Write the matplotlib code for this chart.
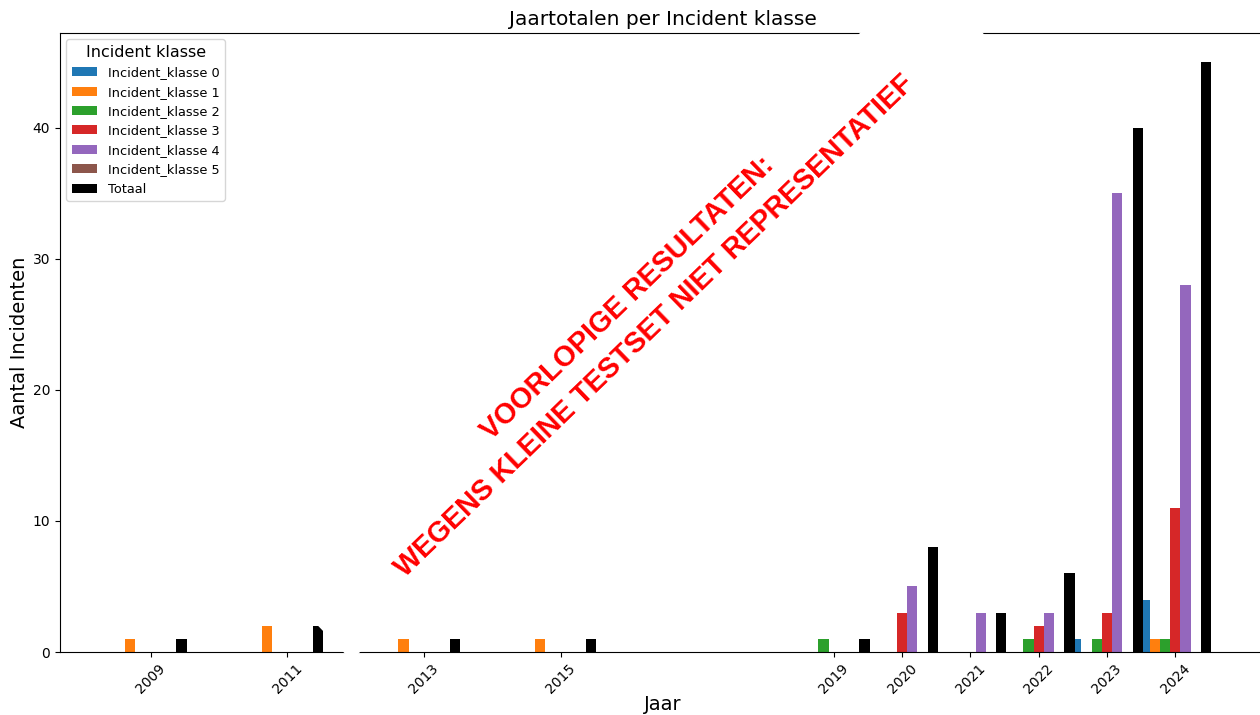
import matplotlib
matplotlib.use("Agg")
import matplotlib.pyplot as plt
import matplotlib.patches as patches
import matplotlib.transforms as transforms
import numpy as np

# jaren met incidenten
years = [2009, 2011, 2013, 2015, 2019, 2020, 2021, 2022, 2023, 2024]

klasse_0 = [0, 0, 0, 0, 0, 0, 0, 0, 1, 4]
klasse_1 = [1, 2, 1, 1, 0, 0, 0, 0, 0, 1]
klasse_2 = [0, 0, 0, 0, 1, 0, 0, 1, 1, 1]
klasse_3 = [0, 0, 0, 0, 0, 3, 0, 2, 3, 11]
klasse_4 = [0, 0, 0, 0, 0, 5, 3, 3, 35, 28]
klasse_5 = [0, 0, 0, 0, 0, 0, 0, 0, 0, 0]
totaal = [1, 2, 1, 1, 1, 8, 3, 6, 40, 45]

series_labels = ["Incident_klasse 0", "Incident_klasse 1", "Incident_klasse 2",
                 "Incident_klasse 3", "Incident_klasse 4", "Incident_klasse 5", "Totaal"]

WATERMARK = "VOORLOPIGE RESULTATEN:\nWEGENS KLEINE TESTSET NIET REPRESENTATIEF"

BAR_WIDTH = 0.15


fig = plt.figure(figsize=(12.6, 7.15), dpi=100)
ax = fig.add_axes([60 / 1260, 1 - 652 / 715, 1206 / 1260, 619 / 715])

series = [klasse_0, klasse_1, klasse_2, klasse_3, klasse_4, klasse_5, totaal]
colors = ["C0", "C1", "C2", "C3", "C4", "C5", "black"]
x = np.array(years, dtype=float)

for i, (values, label, color) in enumerate(zip(series, series_labels, colors)):
    ax.bar(x + (i - 3) * BAR_WIDTH, values, width=BAR_WIDTH, color=color, label=label)

ax.set_xticks(years)
ax.set_xticklabels([str(y) for y in years], rotation=45)
ax.set_xlabel("Jaar", fontsize=14, labelpad=-1)
ax.set_ylabel("Aantal Incidenten", fontsize=14, labelpad=2.5)
ax.set_title("Jaartotalen per Incident klasse", fontsize=14.5)
ax.spines["right"].set_visible(False)
ax.legend(title="Incident klasse", loc="upper left", fontsize=9.3, title_fontsize=11.5)

# witte achtergrond van het watermerk (in inches, gedraaid)
box_trans = transforms.Affine2D().rotate_deg(44).translate(6.375, (715 - 316) / 100) + fig.dpi_scale_trans
box = patches.Rectangle((-4.45, -0.49), 8.9, 0.98, transform=box_trans,
                        facecolor="white", edgecolor="none", zorder=10)
fig.add_artist(box)

fig.text(641 / 1260, 1 - 312 / 715, WATERMARK, rotation=44, rotation_mode="anchor",
         ha="center", va="center", multialignment="center", linespacing=1.5,
         fontsize=20.6, fontweight="bold", family="Liberation Sans", color="red", zorder=11)

fig.savefig("out.png", dpi=100)
